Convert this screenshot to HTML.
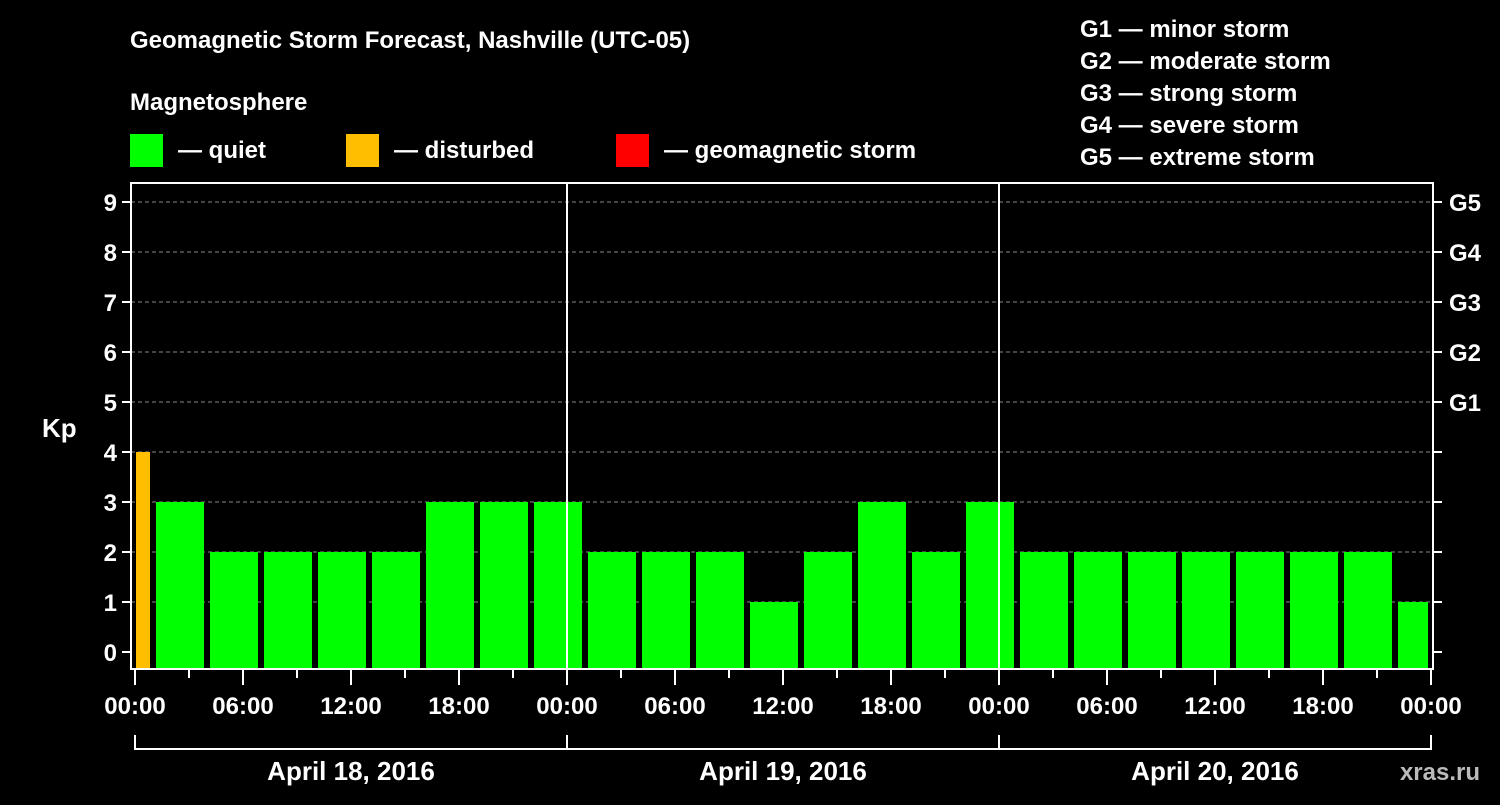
<!DOCTYPE html>
<html><head><meta charset="utf-8"><style>
body{margin:0;background:#000;width:1500px;height:800px;overflow:hidden}
svg text{font-family:"Liberation Sans",sans-serif;font-weight:bold;fill:#fff}
</style></head><body>
<svg id="c" width="1500" height="800">
<text x="130" y="48" font-size="24">Geomagnetic Storm Forecast, Nashville (UTC-05)</text>
<text x="130" y="110" font-size="24">Magnetosphere</text>
<rect x="130" y="134" width="33" height="33" fill="#00ff00"/>
<text x="178" y="158" font-size="24">— quiet</text>
<rect x="346" y="134" width="33" height="33" fill="#ffbf00"/>
<text x="394" y="158" font-size="24">— disturbed</text>
<rect x="616" y="134" width="33" height="33" fill="#ff0000"/>
<text x="664" y="158" font-size="24">— geomagnetic storm</text>
<g font-size="24">
<text x="1080" y="37">G1 — minor storm</text>
<text x="1080" y="69">G2 — moderate storm</text>
<text x="1080" y="101">G3 — strong storm</text>
<text x="1080" y="133">G4 — severe storm</text>
<text x="1080" y="165">G5 — extreme storm</text>
</g>
<text x="42" y="437" font-size="26">Kp</text>
<text x="1480" y="780" font-size="24" text-anchor="end" fill="#ccc" style="fill:#bbb">xras.ru</text>
<g id="g"></g>
</svg>
<script>
const kpValues=[4,3,2,2,2,2,3,3,3,2,2,2,1,2,3,2,3,2,2,2,2,2,2,2,1];
const kpLevels=[0,1,2,3,4,5,6,7,8,9];
const gLabels=["","","","","","G1","G2","G3","G4","G5"];
const hourLabels=["00:00","06:00","12:00","18:00"];
const dayLabels=["April 18, 2016","April 19, 2016","April 20, 2016"];
const X0=135,HPX=18,L=131,R=1433,T=183,B=669;
const x=h=>X0+h*HPX, y=v=>652-50*v;
const g=document.getElementById('g');
function mk(t,a,txt){const e=document.createElementNS('http://www.w3.org/2000/svg',t);for(const k in a)e.setAttribute(k,a[k]);if(txt!=null)e.textContent=txt;g.appendChild(e);return e;}
kpLevels.forEach(v=>{
 if(v>0){const l=mk('line',{x1:L,x2:R,y1:y(v),y2:y(v),stroke:'#888','stroke-dasharray':'4,3'});
 
 }
 const t1=mk('line',{x1:L-9,x2:L,y1:y(v),y2:y(v),stroke:'#fff','stroke-width':2});
 
 
 const t2=mk('line',{x1:R,x2:R+9,y1:y(v),y2:y(v),stroke:'#fff','stroke-width':2});
 
 
 const tl=mk('text',{x:L-14,y:y(v)+9,'font-size':24,'text-anchor':'end'},v);
 
 
 if(gLabels[v]){const gl=mk('text',{x:1449,y:y(v)+9,'font-size':24},gLabels[v]);
 
 }
});
kpValues.forEach((v,i)=>{
 let s=-2+3*i,e=s+3;
 let x1=s<0?x(0)+1:x(s)+3, x2=e>72?x(72)-3:x(e)-3;
 const c=v>=5?'#ff0000':v>=4?'#ffbf00':'#00ff00';
 const r=mk('rect',{x:x1,y:y(v),width:x2-x1,height:B-1-y(v),fill:c});
 
 
});
[1,2].forEach(d=>{const l=mk('line',{x1:x(24*d),x2:x(24*d),y1:T,y2:B,stroke:'#fff','stroke-width':2});
 
 });
const f=mk('rect',{x:L,y:T,width:R-L,height:B-T,fill:'none',stroke:'#fff','stroke-width':2});


for(let h=0;h<=72;h+=3){
 const maj=h%6==0;
 const t=mk('line',{x1:x(h),x2:x(h),y1:B,y2:B+(maj?16:9),stroke:'#fff','stroke-width':2});
 
 
 if(maj){const tl=mk('text',{x:x(h),y:714,'font-size':24,'text-anchor':'middle'},hourLabels[(h/6)%4]);
 
 }
}
const br=mk('line',{x1:x(0),x2:x(72),y1:749,y2:749,stroke:'#fff','stroke-width':2});


for(let d=0;d<=3;d++){const t=mk('line',{x1:x(24*d),x2:x(24*d),y1:735,y2:750,stroke:'#fff','stroke-width':2});
 
 }
dayLabels.forEach((s,d)=>{const t=mk('text',{x:x(24*d+12),y:780,'font-size':26,'text-anchor':'middle'},s);
 
 });
</script>
</body></html>
